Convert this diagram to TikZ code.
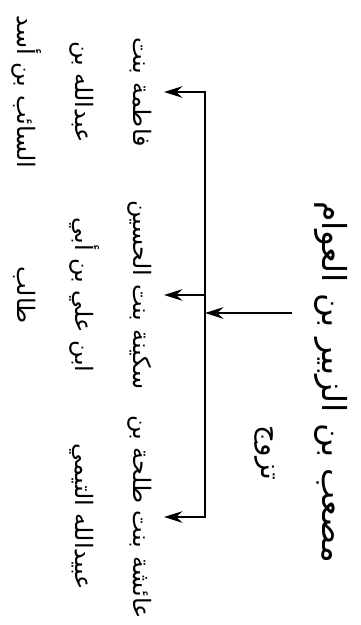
\documentclass[tikz,border=0pt]{standalone}
\usepackage{fontspec}
\newfontfamily\arabicfont[Script=Arabic]{DejaVu Sans}
\TeXXeTstate=1
\usetikzlibrary{positioning,arrows.meta,calc}
\newcommand{\artext}[1]{\beginR #1\endR}

\begin{document}
\begin{tikzpicture}[
    x=0.5pt, y=-0.5pt,
    every node/.style={rotate=-90, align=center, inner sep=1pt, font={\arabicfont\fontsize{12}{29}\selectfont}},
    wife/.style={anchor=north, inner ysep=6pt},
    arrow/.style={-{Stealth[length=3.2mm, width=2mm]}, line width=1.4pt}
]
\useasboundingbox (0,0) rectangle (360,625);

\node[font={\arabicfont\fontsize{16.5}{30}\selectfont}] (musab) at (331,382) {\artext{مصعب بن الزبير بن العوام}};
\node[font={\arabicfont\fontsize{14}{30}\selectfont}] (tazawwaj) at (265,453) {\artext{تزوج}};

% the three wives
\node[wife] (fatima) at (164,92) {\artext{فاطمة بنت}\\\artext{عبدالله بن}\\\artext{السائب بن أسد}};
\node[wife] (sukayna) at (164,295) {\artext{سكينة بنت الحسين}\\\artext{ابن علي بن أبي}\\\artext{طالب}};
\node[wife] (aisha) at (164,517) {\artext{عائشة بنت طلحة بن}\\\artext{عبيدالله التيمي}};

\coordinate (join) at (205,313);
\coordinate (from) at (292,313);

\draw[arrow] (from) -- (join);
\draw[arrow] (join) |- (fatima.north);
\draw[arrow] (join) |- (aisha.north);
\draw[arrow] (sukayna.north -| join) -- (sukayna.north);

\end{tikzpicture}
\end{document}
